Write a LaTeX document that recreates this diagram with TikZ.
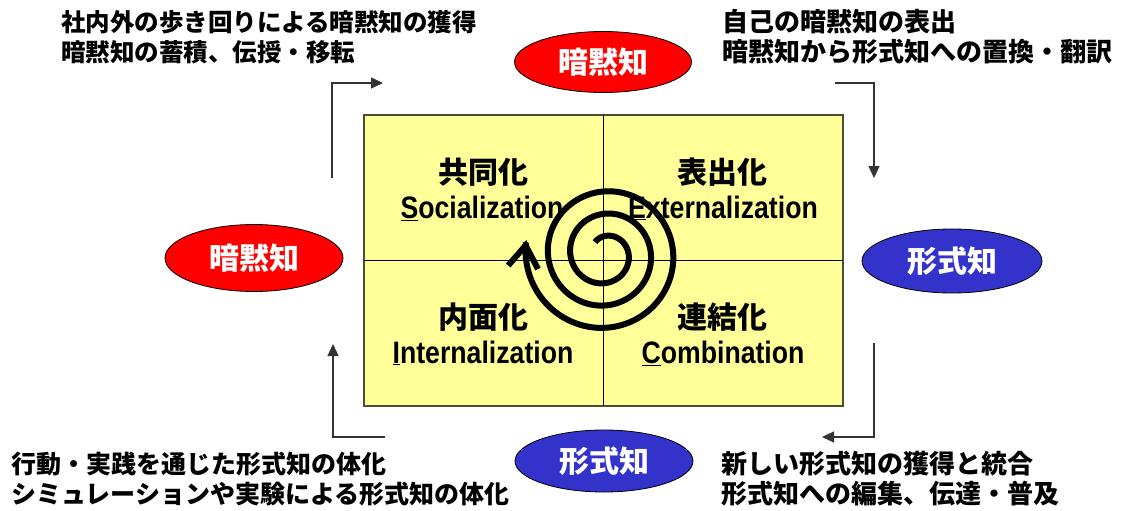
\documentclass[tikz,border=0pt]{standalone}
\usepackage{fontspec}
\usetikzlibrary{shapes.geometric,arrows.meta}
\setmainfont{Liberation Sans}
\newfontfamily\jp{Noto Sans CJK JP}
\newfontfamily\lat{Liberation Sans}[FakeStretch=0.86]
\definecolor{boxfill}{HTML}{FFFF99}
\definecolor{boxedge}{HTML}{4D4D33}
\definecolor{tacit}{HTML}{FF0000}
\definecolor{explicit}{HTML}{3333CC}
\definecolor{conn}{HTML}{333333}
\begin{document}
\begin{tikzpicture}[x=1pt,y=-1pt,
  jpq/.style={anchor=base,inner sep=0pt,font=\jp\bfseries\fontsize{30}{32}\selectfont},
  enq/.style={anchor=base,inner sep=0pt,font=\lat\bfseries\fontsize{31}{32}\selectfont},
  oval/.style={ellipse,draw=black,line width=0.8pt,inner sep=0pt,text=white,
    font=\jp\bfseries\fontsize{30}{32}\selectfont},
  note/.style={anchor=north west,inner sep=0pt,align=left},
  conn/.style={draw=conn,line width=1.3pt,-{Triangle[length=12pt,width=11pt]}}
]
\useasboundingbox (0,0) rectangle (1121,511);

% central matrix
\path[fill=boxfill,draw=boxedge,line width=1.5pt] (364,115) rectangle (843,406);
\coordinate (vt) at (603,115); \coordinate (vb) at (603,406);
\coordinate (hl) at (364,260); \coordinate (hr) at (843,260);
\draw[line width=0.9pt] (vt) -- (vb);
\draw[line width=0.9pt] (hl) -- (hr);

% quadrant labels
\node[jpq] (socj) at (483,183) {共同化};
\node[enq] (soce) at (482,218) {\underline{S}ocialization};
\node[jpq] (extj) at (722,183) {表出化};
\node[enq] (exte) at (723,218) {\underline{E}xternalization};
\node[jpq] (intj) at (483,328) {内面化};
\node[enq] (inte) at (483,363) {\underline{I}nternalization};
\node[jpq] (comj) at (722,328) {連結化};
\node[enq] (come) at (723,363) {\underline{C}ombination};

% spiral
\draw[line width=6pt,-{Straight Barb[length=22pt,width=30pt]}]
  plot[domain=-40:1000,samples=400,smooth]
  ({605+(18+0.062*\x)*sin(\x)},{254-(18+0.062*\x)*cos(\x)});

% ellipses
\node[oval,fill=tacit,minimum width=177pt,minimum height=61pt] (tacitTop) at (603,62) {暗黙知};
\node[oval,fill=tacit,minimum width=178pt,minimum height=67pt] (tacitLeft) at (254,258) {暗黙知};
\node[oval,fill=explicit,minimum width=180pt,minimum height=64pt] (explRight) at (952,261) {形式知};
\node[oval,fill=explicit,minimum width=178pt,minimum height=62pt] (explBottom) at (604,461) {形式知};

% notes
\node[note,font=\jp\bfseries\fontsize{24.5}{30}\selectfont] (noteTL) at (61,10) {社内外の歩き回りによる暗黙知の獲得\\暗黙知の蓄積、伝授・移転};
\node[note,font=\jp\bfseries\fontsize{26}{30}\selectfont] (noteTR) at (722,9) {自己の暗黙知の表出\\暗黙知から形式知への置換・翻訳};
\node[note,font=\jp\bfseries\fontsize{25}{30}\selectfont] (noteBL) at (11,452) {行動・実践を通じた形式知の体化\\シミュレーションや実験による形式知の体化};
\node[note,font=\jp\bfseries\fontsize{26}{30}\selectfont] (noteBR) at (721,451) {新しい形式知の獲得と統合\\形式知への編集、伝達・普及};

% connectors
\coordinate (tlS) at (332,178); \coordinate (tlE) at (383,83);
\coordinate (trS) at (835,83);  \coordinate (trE) at (874,178);
\coordinate (brS) at (874,343); \coordinate (brE) at (822,437);
\coordinate (blS) at (385,437); \coordinate (blE) at (333,344);
\draw[conn] (tlS) |- (tlE);
\draw[conn] (trS) -| (trE);
\draw[conn] (brS) |- (brE);
\draw[conn] (blS) -| (blE);
\end{tikzpicture}
\end{document}
